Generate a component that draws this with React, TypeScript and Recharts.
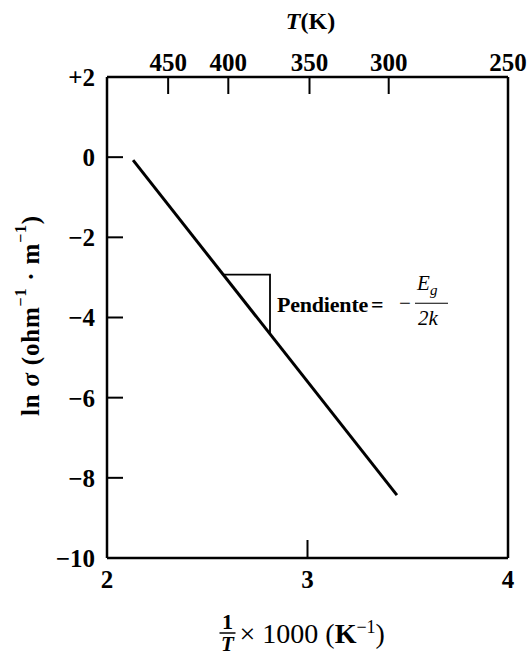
import React from 'react';
import { ComposedChart, Line, XAxis, YAxis, ReferenceDot, ReferenceLine } from 'recharts';

// 1/T x 1000 (K^-1) and ln sigma of the straight line
const invT = [2.13, 3.446];
const lnSigma = [-0.075, -8.43];
// slope triangle
const triX = [2.584, 2.813, 2.813];
const triY = [-2.93, -2.93, -4.41];
// axes
const bottomTicks = [2, 3, 4];
const leftTicks = [-10, -8, -6, -4, -2, 0, 2];
const topTickPos = [2.305, 2.605, 3.01, 3.405, 4.0];
const topTickLabels = ['450', '400', '350', '300', '250'];

const lineData = invT.map((x, i) => ({ x, y: lnSigma[i] }));
const triData = triX.map((x, i) => ({ x, y: triY[i] }));

const FONT = '"Liberation Serif", "Times New Roman", serif';
const tickStyle = { fill: '#000', fontFamily: FONT, fontWeight: 700, fontSize: 25 };

const fmtY = (v: number) => (v > 0 ? '+' + v : v < 0 ? '\u2212' + -v : '0');
const fmtTop = (v: number) => {
  const i = topTickPos.findIndex((p) => Math.abs(p - v) < 1e-6);
  return i >= 0 ? topTickLabels[i] : '';
};

const BottomTitle = (props: any) => {
  const vb = props.viewBox || { x: 107, y: 558, width: 401 };
  const cx = vb.x + vb.width / 2;
  const y0 = vb.y;
  const fx = cx - 80;
  return (
    <g fontFamily={FONT} fill="#000">
      <text x={fx} y={y0 + 71} textAnchor="middle" fontSize={22} fontWeight={700}>1</text>
      <line x1={fx - 8} x2={fx + 8} y1={y0 + 75} y2={y0 + 75} stroke="#000" strokeWidth={1.5} />
      <text x={fx} y={y0 + 93} textAnchor="middle" fontSize={21} fontStyle="italic" fontWeight={700}>T</text>
      <text x={cx - 68} y={y0 + 85} fontSize={28}>
        <tspan>× 1000 (</tspan>
        <tspan fontWeight={700}>K</tspan>
        <tspan fontSize={18} dy={-10}>−1</tspan>
        <tspan dy={10}>)</tspan>
      </text>
    </g>
  );
};

const TopTitle = (props: any) => {
  const vb = props.viewBox || { x: 107, y: 0, width: 401 };
  const cx = vb.x + vb.width / 2 + 3;
  return (
    <text x={cx} y={vb.y + 29} textAnchor="middle" fontFamily={FONT} fontSize={24} fontWeight={700} fill="#000">
      <tspan fontStyle="italic">T</tspan>
      <tspan>(K)</tspan>
    </text>
  );
};

const LeftTitle = (props: any) => {
  const vb = props.viewBox || { x: 0, y: 77, height: 481 };
  const cx = 30;
  const cy = vb.y + vb.height / 2 - 2;
  return (
    <text
      x={cx}
      y={cy}
      transform={`rotate(-90 ${cx} ${cy})`}
      textAnchor="middle"
      dominantBaseline="central"
      fontFamily={FONT}
      fontSize={25}
      fontWeight={700}
      letterSpacing={0.8}
      fill="#000"
    >
      <tspan>ln </tspan>
      <tspan fontStyle="italic">σ</tspan>
      <tspan> (ohm</tspan>
      <tspan fontSize={16} dy={-10}>−1</tspan>
      <tspan dy={10}> · m</tspan>
      <tspan fontSize={16} dy={-10}>−1</tspan>
      <tspan dy={10}>)</tspan>
    </text>
  );
};

const SlopeLabel = (props: any) => {
  const vb = props.viewBox || { x: 0, y: 0, width: 0, height: 0 };
  const x = vb.x + vb.width / 2;
  const y = vb.y + vb.height / 2;
  return (
    <g fontFamily={FONT} fill="#000">
      <text x={x + 7} y={y + 8} fontSize={22} fontWeight={700} letterSpacing={-0.2}>Pendiente</text>
      <text x={x + 101} y={y + 8} fontSize={22} fontWeight={700}>=</text>
      <text x={x + 129} y={y + 6} fontSize={21}>−</text>
      <text x={x + 147} y={y - 14} fontSize={21} fontStyle="italic">E</text>
      <text x={x + 160} y={y - 9} fontSize={15} fontStyle="italic">g</text>
      <line x1={x + 145} x2={x + 178} y1={y - 1} y2={y - 1} stroke="#000" strokeWidth={1.2} />
      <text x={x + 148} y={y + 21} fontSize={21} fontStyle="italic">2k</text>
    </g>
  );
};

export default function App() {
  return (
    <div style={{ position: 'absolute', left: 0, top: 0, width: 528, height: 657, background: '#fff' }}>
      <ComposedChart width={528} height={657} margin={{ top: 0, right: 20, bottom: 0, left: 0 }}>
        <XAxis
          xAxisId="b"
          type="number"
          dataKey="x"
          domain={[2, 4]}
          ticks={bottomTicks}
          orientation="bottom"
          height={99}
          axisLine={{ stroke: '#000', strokeWidth: 2.5 }}
          tickLine={{ stroke: '#000', strokeWidth: 2 }}
          tickSize={-18}
          tickMargin={30}
          tick={tickStyle}
          interval={0}
          allowDataOverflow
          label={<BottomTitle />}
        />
        <XAxis
          xAxisId="t"
          type="number"
          dataKey="x"
          domain={[2, 4]}
          ticks={topTickPos}
          tickFormatter={fmtTop}
          orientation="top"
          height={77}
          axisLine={{ stroke: '#000', strokeWidth: 2.5 }}
          tickLine={{ stroke: '#000', strokeWidth: 2 }}
          tickSize={-17}
          tickMargin={23}
          tick={tickStyle}
          interval={0}
          allowDataOverflow
          label={<TopTitle />}
        />
        <YAxis
          yAxisId="l"
          type="number"
          domain={[-10, 2]}
          ticks={leftTicks}
          tickFormatter={fmtY}
          width={107}
          axisLine={{ stroke: '#000', strokeWidth: 2.5 }}
          tickLine={{ stroke: '#000', strokeWidth: 2 }}
          tickSize={-16}
          tickMargin={28}
          tick={tickStyle}
          interval={0}
          allowDataOverflow
          label={<LeftTitle />}
        />
        <ReferenceLine xAxisId="b" yAxisId="l" x={4} stroke="#000" strokeWidth={2.5} ifOverflow="visible" />
        <Line
          xAxisId="b"
          yAxisId="l"
          data={lineData}
          dataKey="y"
          stroke="#000"
          strokeWidth={3}
          dot={false}
          isAnimationActive={false}
        />
        <Line
          xAxisId="b"
          yAxisId="l"
          data={triData}
          dataKey="y"
          stroke="#000"
          strokeWidth={1.8}
          dot={false}
          isAnimationActive={false}
        />
        <ReferenceDot
          xAxisId="b"
          yAxisId="l"
          x={2.813}
          y={-3.67}
          r={0}
          fill="none"
          stroke="none"
          label={<SlopeLabel />}
        />
      </ComposedChart>
    </div>
  );
}
